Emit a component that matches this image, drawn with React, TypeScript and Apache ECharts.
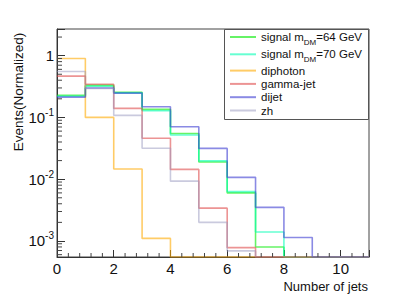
import React, { useEffect, useRef } from "react";
import * as echarts from "echarts";

// bin lower edges (width 1)
const binEdges = [0, 1, 2, 3, 4, 5, 6, 7, 8, 9, 10, 11];
const seriesNames = [
  "signal m_DM=64 GeV",
  "signal m_DM=70 GeV",
  "diphoton",
  "gamma-jet",
  "dijet",
  "zh",
];
const signal64 = [0.229, 0.33, 0.255, 0.135, 0.055, 0.019, 0.006, 0.0008, 0, 0, 0];
const signal70 = [0.22, 0.32, 0.25, 0.128, 0.052, 0.0198, 0.0063, 0.0014, 0, 0, 0];
const diphoton = [0.9, 0.1, 0.0146, 0.0011, 0, 0, 0, 0, 0, 0, 0];
const gammaJet = [0.466, 0.345, 0.14, 0.046, 0.0144, 0.0034, 0.00078, 0, 0, 0, 0];
const dijet = [0.213, 0.3, 0.247, 0.149, 0.0705, 0.0315, 0.0107, 0.0035, 0.00114, 0, 0];
const zh = [0.555, 0.295, 0.108, 0.0316, 0.0093, 0.002, 0.00069, 0, 0, 0, 0];

const yMinorTicks = [
  0.0006, 0.0007, 0.0008, 0.0009,
  0.002, 0.003, 0.004, 0.005, 0.006, 0.007, 0.008, 0.009,
  0.02, 0.03, 0.04, 0.05, 0.06, 0.07, 0.08, 0.09,
  0.2, 0.3, 0.4, 0.5, 0.6, 0.7, 0.8, 0.9,
  2,
];
const xMinorTicks = [
  0.4, 0.8, 1.2, 1.6, 2.4, 2.8, 3.2, 3.6, 4.4, 4.8, 5.2, 5.6, 6.4, 6.8, 7.2, 7.6,
  8.4, 8.8, 9.2, 9.6, 10.4, 10.8,
];

const Y_MIN = 0.00055;
const Y_MAX = 2.7;
const X_MIN = 0;
const X_MAX = 11;

const colors = [
  "rgba(0,235,0,0.6)",
  "rgba(0,255,180,0.6)",
  "rgba(255,170,0,0.6)",
  "rgba(220,60,60,0.55)",
  "rgba(60,60,210,0.6)",
  "rgba(150,150,190,0.5)",
];

const FONT = "'Liberation Sans', Arial, Helvetica, sans-serif";

function stepData(vals: number[]) {
  const pts: [number, number][] = [];
  vals.forEach((v, i) => {
    pts.push([binEdges[i], v > 0 ? v : Y_MIN]);
  });
  const last = vals[vals.length - 1];
  pts.push([binEdges[vals.length], last > 0 ? last : Y_MIN]);
  return pts;
}

function legendLabel(name: string) {
  const m = name.match(/^(.*)_DM(.*)$/);
  if (m) return `{a|${m[1]}}{s|DM}{a|${m[2]}}`;
  return `{a|${name}}`;
}

export default function App() {
  const ref = useRef<HTMLDivElement>(null);
  useEffect(() => {
    if (!ref.current) return;
    const chart = echarts.init(ref.current, null, { renderer: "svg" });
    const allVals = [signal64, signal70, diphoton, gammaJet, dijet, zh];
    const lineSeries = allVals.map((vals, i) => ({
      name: seriesNames[i],
      type: "line",
      step: "end",
      symbol: "none",
      data: stepData(vals),
      lineStyle: { color: colors[i], width: 1.6 },
      itemStyle: { color: colors[i] },
      z: 2 + i,
    }));
    chart.setOption({
      animation: false,
      backgroundColor: "#fff",
      textStyle: { fontFamily: FONT },
      grid: {
        left: 57,
        top: 29,
        right: 40,
        bottom: 43,
        show: true,
        borderColor: "#444",
        borderWidth: 1,
        backgroundColor: "transparent",
      },
      legend: {
        data: seriesNames.map((n) => ({ name: n, icon: "path://M0,4 L26,4 L26,6 L0,6 Z" })),
        orient: "vertical",
        left: 230,
        top: 30,
        itemWidth: 26,
        itemHeight: 2,
        itemGap: 1.3,
        padding: 0,
        formatter: (name: string) => legendLabel(name),
        textStyle: {
          fontFamily: FONT,
          color: "#111",
          rich: {
            a: { fontSize: 11.5, lineHeight: 14, fontFamily: FONT, color: "#111" },
            s: {
              fontSize: 8,
              lineHeight: 4,
              verticalAlign: "top",
              padding: [8, 0, 0, 0],
              fontFamily: FONT,
              color: "#111",
            },
          },
        },
      },
      xAxis: {
        type: "value",
        min: X_MIN,
        max: X_MAX,
        interval: 2,
        axisLine: { show: true, lineStyle: { color: "#333", width: 1 } },
        axisTick: { show: true, inside: true, length: 7, lineStyle: { color: "#333" } },
        splitLine: { show: false },
        axisLabel: {
          margin: 4,
          fontSize: 15,
          color: "#111",
          fontFamily: FONT,
          formatter: (v: number) => (v > 10.5 ? "" : String(v)),
        },
      },
      yAxis: {
        type: "log",
        min: Y_MIN,
        max: Y_MAX,
        logBase: 10,
        axisLine: { show: true, lineStyle: { color: "#333", width: 1 } },
        axisTick: { show: true, inside: true, length: 8, lineStyle: { color: "#333" } },
        splitLine: { show: false },
        minorTick: { show: false },
        axisLabel: {
          margin: 3,
          color: "#111",
          fontFamily: FONT,
          formatter: (v: number) => {
            const e = Math.log10(v);
            const r = Math.round(e);
            if (Math.abs(e - r) > 1e-6) return "";
            if (r === 0) return "{b|1}";
            return `{b|10}{s|${r}}`;
          },
          rich: {
            b: { fontSize: 15, lineHeight: 20, fontFamily: FONT, color: "#111" },
            s: { fontSize: 10, lineHeight: 10, verticalAlign: "top", fontFamily: FONT, color: "#111" },
          },
        },
      },
      series: [
        ...lineSeries,
        {
          name: "yminor",
          type: "custom",
          silent: true,
          z: 10,
          data: yMinorTicks.map((v) => [X_MIN, v]),
          renderItem: (params: any, api: any) => {
            const p = api.coord([X_MIN, api.value(1)]);
            return {
              type: "line",
              shape: { x1: p[0], y1: p[1], x2: p[0] + 5, y2: p[1] },
              style: { stroke: "#444", lineWidth: 1 },
            };
          },
        },
        {
          name: "xminor",
          type: "custom",
          silent: true,
          z: 10,
          data: xMinorTicks.map((x) => [x, Y_MIN]),
          renderItem: (params: any, api: any) => {
            const p = api.coord([api.value(0), Y_MIN]);
            return {
              type: "line",
              shape: { x1: p[0], y1: p[1], x2: p[0], y2: p[1] - 4 },
              style: { stroke: "#444", lineWidth: 1 },
            };
          },
        },
      ],
      graphic: [
        {
          type: "rect",
          shape: { x: 224.5, y: 29.5, width: 144, height: 90 },
          style: { fill: "rgba(0,0,0,0)", stroke: "#555", lineWidth: 1 },
          z: 20,
          silent: true,
        },
        {
          type: "text",
          x: 18,
          y: 92,
          rotation: Math.PI / 2,
          style: {
            text: "Events(Normalized)",
            fontSize: 13.5,
            fontFamily: FONT,
            fill: "#111",
            textAlign: "center",
            textVerticalAlign: "middle",
          },
        },
        {
          type: "text",
          x: 368,
          y: 286,
          style: {
            text: "Number of jets",
            fontSize: 13,
            fontFamily: FONT,
            fill: "#111",
            textAlign: "right",
            textVerticalAlign: "middle",
          },
        },
      ],
    });
    return () => chart.dispose();
  }, []);
  return (
    <div
      ref={ref}
      style={{ position: "fixed", left: 0, top: 0, width: 409, height: 300 }}
    />
  );
}
